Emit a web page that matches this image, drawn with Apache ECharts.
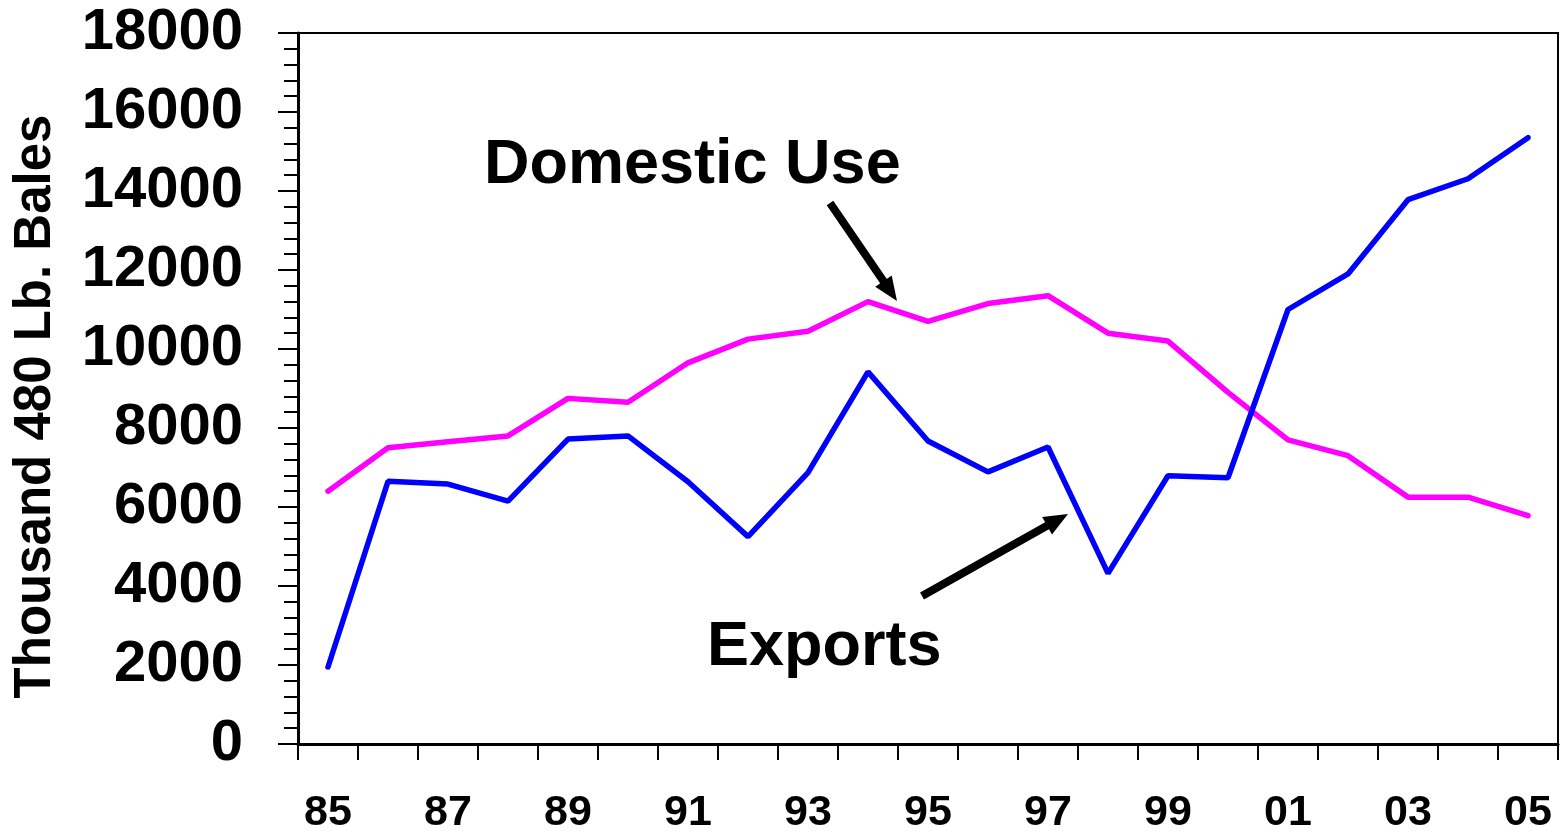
<!DOCTYPE html>
<html>
<head>
<meta charset="utf-8">
<script src="https://cdn.jsdelivr.net/npm/echarts@6/dist/echarts.min.js"></script>
<style>
html,body{margin:0;padding:0;background:#fff;}
#chart{width:1560px;height:835px;}
</style>
</head>
<body>
<div id="chart"></div>
<script>
const years = ['85','86','87','88','89','90','91','92','93','94','95','96','97','98','99','00','01','02','03','04','05'];
const domesticUse = [6400, 7500, 7650, 7800, 8750, 8650, 9650, 10250, 10450, 11200, 10700, 11150, 11350, 10400, 10200, 8900, 7700, 7300, 6250, 6250, 5780];
const exportsData = [1950, 6650, 6580, 6150, 7720, 7800, 6640, 5250, 6870, 9420, 7670, 6890, 7520, 4320, 6790, 6740, 11000, 11900, 13780, 14310, 15350];
const yTicks = {min: 0, max: 18000, interval: 2000};
const yTitle = 'Thousand 480 Lb. Bales';
const labelDomestic = 'Domestic Use';
const labelExports = 'Exports';

const FONT = '"Liberation Sans", Arial, sans-serif';

function arrow(x1, y1, x2, y2) {
  const dx = x2 - x1, dy = y2 - y1;
  const len = Math.sqrt(dx*dx + dy*dy);
  const ux = dx/len, uy = dy/len;
  const hl = 24, hw = 10;
  const bx = x2 - ux*hl, by = y2 - uy*hl;
  const px = -uy, py = ux;
  return [
    {type:'line', shape:{x1:x1, y1:y1, x2:bx + ux*2, y2:by + uy*2}, style:{stroke:'#000', lineWidth:8}},
    {type:'polygon', shape:{points:[[x2,y2],[bx+px*hw,by+py*hw],[bx-px*hw,by-py*hw]]}, style:{fill:'#000'}}
  ];
}

const chart = echarts.init(document.getElementById('chart'), null, {renderer:'canvas'});
chart.setOption({
  animation: false,
  backgroundColor: '#fff',
  grid: {left: 298, right: 2, top: 33, bottom: 89, show: true, borderColor: '#000', borderWidth: 2, backgroundColor: 'transparent'},
  xAxis: {
    type: 'category',
    data: years,
    boundaryGap: true,
    axisLine: {lineStyle: {color: '#000', width: 3}},
    axisTick: {show: true, interval: 0, length: 16, lineStyle: {color: '#000', width: 2}},
    axisLabel: {interval: 1, margin: 48, color: '#000', fontFamily: FONT, fontWeight: 'bold', fontSize: 43},
    splitLine: {show: false}
  },
  yAxis: {
    type: 'value',
    min: yTicks.min, max: yTicks.max, interval: yTicks.interval,
    name: yTitle,
    nameLocation: 'middle',
    nameGap: 237,
    nameTextStyle: {color: '#000', fontFamily: FONT, fontWeight: 'bold', fontSize: 51, padding: [0, 36, 0, 0]},
    axisLine: {show: true, lineStyle: {color: '#000', width: 3}},
    axisTick: {show: true, length: 20, lineStyle: {color: '#000', width: 2}},
    minorTick: {show: true, splitNumber: 5, length: 14, lineStyle: {color: '#000', width: 2}},
    axisLabel: {margin: 55, color: '#000', fontFamily: FONT, fontWeight: 'bold', fontSize: 58,
      formatter: function (v) { return String(v); }},
    splitLine: {show: false}
  },
  series: [
    {name: labelDomestic, type: 'line', data: domesticUse, showSymbol: false, symbol: 'none',
     lineStyle: {color: '#FF00FF', width: 5.5, cap: 'round'}, itemStyle: {color: '#FF00FF'}},
    {name: labelExports, type: 'line', data: exportsData, showSymbol: false, symbol: 'none',
     lineStyle: {color: '#0000FF', width: 5.5, cap: 'round'}, itemStyle: {color: '#0000FF'}}
  ],
  graphic: [
    {type: 'text', left: 484, top: 134, style: {text: labelDomestic, fill: '#000', font: 'bold 63px ' + FONT}},
    {type: 'text', left: 707, top: 616, style: {text: labelExports, fill: '#000', font: 'bold 63px ' + FONT}},
    ...arrow(830, 203, 897, 301),
    ...arrow(922, 596, 1068, 514)
  ]
});
</script>
</body>
</html>
